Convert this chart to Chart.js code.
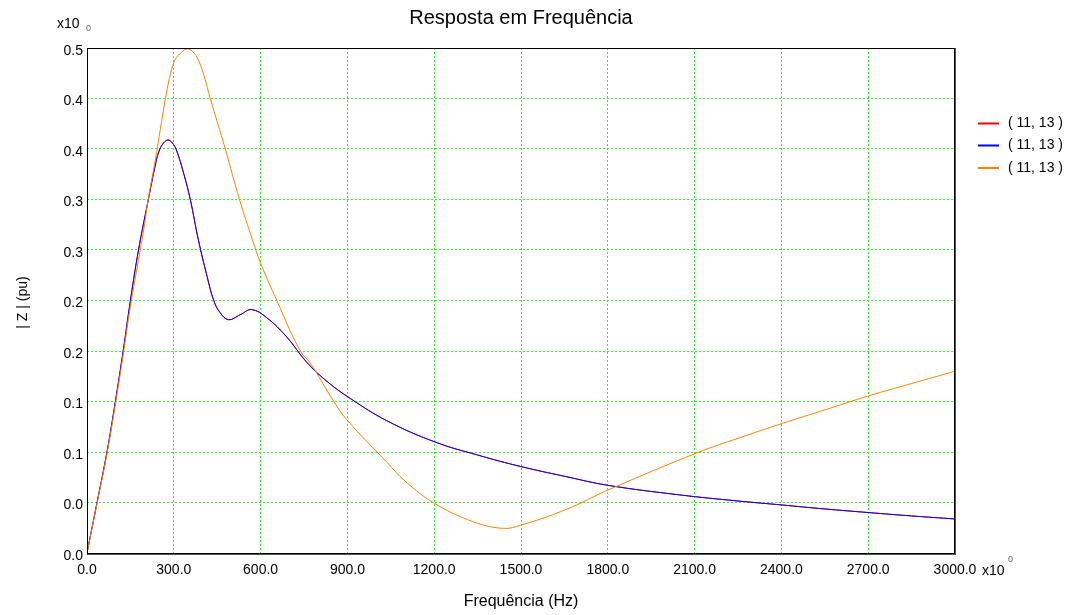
<!DOCTYPE html>
<html>
<head>
<meta charset="utf-8">
<script src="https://cdn.jsdelivr.net/npm/chart.js@4/dist/chart.umd.min.js"></script>
<style>
  html, body { margin: 0; padding: 0; background: #ffffff; }
  #wrap { width: 1071px; height: 615px; }
</style>
</head>
<body>
<div id="wrap"><canvas id="c" width="1071" height="615"></canvas></div>
<script>
// Frequency response |Z| (pu) versus frequency (Hz)
const seriesLabels = ['( 11, 13 )', '( 11, 13 )', '( 11, 13 )'];
const seriesColors = ['#ff0000', '#0000ff', '#ff8000'];

const blueFreq = [0, 34, 69, 98, 125, 150, 178, 212, 236, 248, 262, 280, 295, 309, 334, 357, 385, 415, 438, 460, 489, 530, 569, 621, 690, 759, 829, 910, 1036, 1202, 1350, 1501, 1650, 1801, 2049, 2250, 2404, 2550, 2703, 2850, 3000];
const blueMag  = [0, 0.049, 0.100, 0.150, 0.200, 0.250, 0.300, 0.350, 0.384, 0.397, 0.405, 0.409, 0.406, 0.399, 0.376, 0.350, 0.310, 0.274, 0.250, 0.238, 0.231, 0.236, 0.241, 0.233, 0.214, 0.189, 0.170, 0.153, 0.131, 0.110, 0.097, 0.0855, 0.076, 0.067, 0.0575, 0.0515, 0.0475, 0.0436, 0.040, 0.0367, 0.0337];

// the red trace carries the same values as the blue one
const redFreq = blueFreq;
const redMag  = blueMag;

const orangeFreq = [0, 34, 69, 98, 125, 150, 196, 211, 236, 271, 285, 302, 320, 345, 365, 385, 405, 426, 478, 527, 572, 600, 656, 737, 772, 852, 898, 1036, 1100, 1202, 1335, 1438, 1501, 1657, 1801, 2113, 2250, 2404, 2550, 2703, 2850, 3000];
const orangeMag  = [0, 0.048, 0.098, 0.147, 0.196, 0.244, 0.320, 0.3495, 0.389, 0.450, 0.470, 0.487, 0.494, 0.499, 0.4965, 0.488, 0.472, 0.450, 0.400, 0.350, 0.310, 0.287, 0.250, 0.200, 0.188, 0.1505, 0.132, 0.090, 0.071, 0.049, 0.031, 0.0244, 0.0277, 0.0432, 0.0624, 0.0997, 0.1135, 0.1284, 0.1417, 0.1557, 0.1678, 0.180];

const xTickLabels = ['0.0', '300.0', '600.0', '900.0', '1200.0', '1500.0', '1800.0', '2100.0', '2400.0', '2700.0', '3000.0'];
const yTickLabels = ['0.0', '0.0', '0.1', '0.1', '0.2', '0.2', '0.3', '0.3', '0.4', '0.4', '0.5'];

const FONT = 'Arial, "Liberation Sans", sans-serif';

function toPoints(xs, ys) {
  return xs.map((x, i) => ({ x: x, y: ys[i] }));
}

const decorations = {
  id: 'decorations',
  afterDraw(chart) {
    const ctx = chart.ctx;
    const a = chart.chartArea;
    const ys = chart.scales.y;
    ctx.save();

    // plot frame
    ctx.strokeStyle = '#000000';
    ctx.lineWidth = 1;
    ctx.strokeRect(a.left + 0.5, a.top + 0.5, a.right - a.left - 1, a.bottom - a.top);
    ctx.strokeStyle = '#555555';
    ctx.beginPath();
    ctx.moveTo(a.left, a.bottom + 1.5);
    ctx.lineTo(a.right + 1, a.bottom + 1.5);
    ctx.moveTo(a.right + 0.5, a.top);
    ctx.lineTo(a.right + 0.5, a.bottom + 1);
    ctx.stroke();

    // y tick labels, sitting slightly below their grid lines
    ctx.fillStyle = '#000000';
    ctx.font = '14px ' + FONT;
    ctx.textAlign = 'right';
    ctx.textBaseline = 'middle';
    ys.ticks.forEach((t, i) => {
      ctx.fillText(yTickLabels[i], a.left - 4, ys.getPixelForValue(t.value) + 3);
    });

    // title
    ctx.font = '20px ' + FONT;
    ctx.textAlign = 'center';
    ctx.textBaseline = 'alphabetic';
    ctx.fillText('Resposta em Frequência', (a.left + a.right) / 2, 24);

    // x axis title
    ctx.font = '16px ' + FONT;
    ctx.fillText('Frequência (Hz)', (a.left + a.right) / 2, 606);

    // y axis title
    ctx.save();
    ctx.translate(27, 302.5);
    ctx.rotate(-Math.PI / 2);
    ctx.font = '14px ' + FONT;
    ctx.textAlign = 'center';
    ctx.fillText('| Z | (pu)', 0, 0);
    ctx.restore();

    // scale multipliers
    ctx.textAlign = 'left';
    ctx.font = '14px ' + FONT;
    ctx.fillStyle = '#000000';
    ctx.fillText('x10', 57, 28);
    ctx.fillText('x10', 982, 575);
    ctx.font = '9px ' + FONT;
    ctx.fillStyle = '#666666';
    ctx.fillText('0', 86, 31);
    ctx.fillText('0', 1008, 562);

    // legend
    const legendY = [123.5, 145.5, 168];
    chart.data.datasets.forEach((ds, i) => {
      ctx.strokeStyle = ds.borderColor;
      ctx.lineWidth = 2;
      ctx.beginPath();
      ctx.moveTo(978, legendY[i]);
      ctx.lineTo(999, legendY[i]);
      ctx.stroke();
      ctx.fillStyle = '#000000';
      ctx.font = '14px ' + FONT;
      ctx.textAlign = 'left';
      ctx.textBaseline = 'middle';
      ctx.fillText(ds.label, 1008, legendY[i]);
    });

    ctx.restore();
  }
};

const gridColor = '#33ee33';

new Chart(document.getElementById('c'), {
  type: 'line',
  data: {
    datasets: [
      { label: seriesLabels[0], data: toPoints(redFreq, redMag), borderColor: seriesColors[0], order: 2 },
      { label: seriesLabels[1], data: toPoints(blueFreq, blueMag), borderColor: seriesColors[1], order: 1 },
      { label: seriesLabels[2], data: toPoints(orangeFreq, orangeMag), borderColor: seriesColors[2], order: 0 }
    ]
  },
  options: {
    responsive: false,
    animation: false,
    devicePixelRatio: 1,
    layout: { padding: { top: 48, right: 116, left: 0, bottom: 0 } },
    elements: {
      line: { borderWidth: 1, tension: 0.4, fill: false },
      point: { radius: 0, hoverRadius: 0 }
    },
    plugins: {
      legend: { display: false },
      title: { display: false },
      tooltip: { enabled: false }
    },
    scales: {
      x: {
        type: 'linear',
        min: 0,
        max: 3000,
        afterFit(s) { s.height = 62; },
        afterBuildTicks(s) { s.ticks = xTickLabels.map((_, i) => ({ value: i * 300 })); },
        ticks: {
          callback: (v, i) => xTickLabels[i],
          color: '#000000',
          font: { family: FONT, size: 14 },
          padding: 9,
          maxRotation: 0,
          autoSkip: false
        },
        grid: { color: gridColor, drawTicks: false, lineWidth: 1 },
        border: { display: false, dash: [2, 2] }
      },
      y: {
        type: 'linear',
        min: 0,
        max: 0.5,
        afterFit(s) { s.width = 87; },
        afterBuildTicks(s) { s.ticks = yTickLabels.map((_, i) => ({ value: i * 0.05 })); },
        ticks: { display: false },
        grid: { color: gridColor, drawTicks: false, lineWidth: 1 },
        border: { display: false, dash: [2, 2] }
      }
    }
  },
  plugins: [decorations]
});
</script>
</body>
</html>
